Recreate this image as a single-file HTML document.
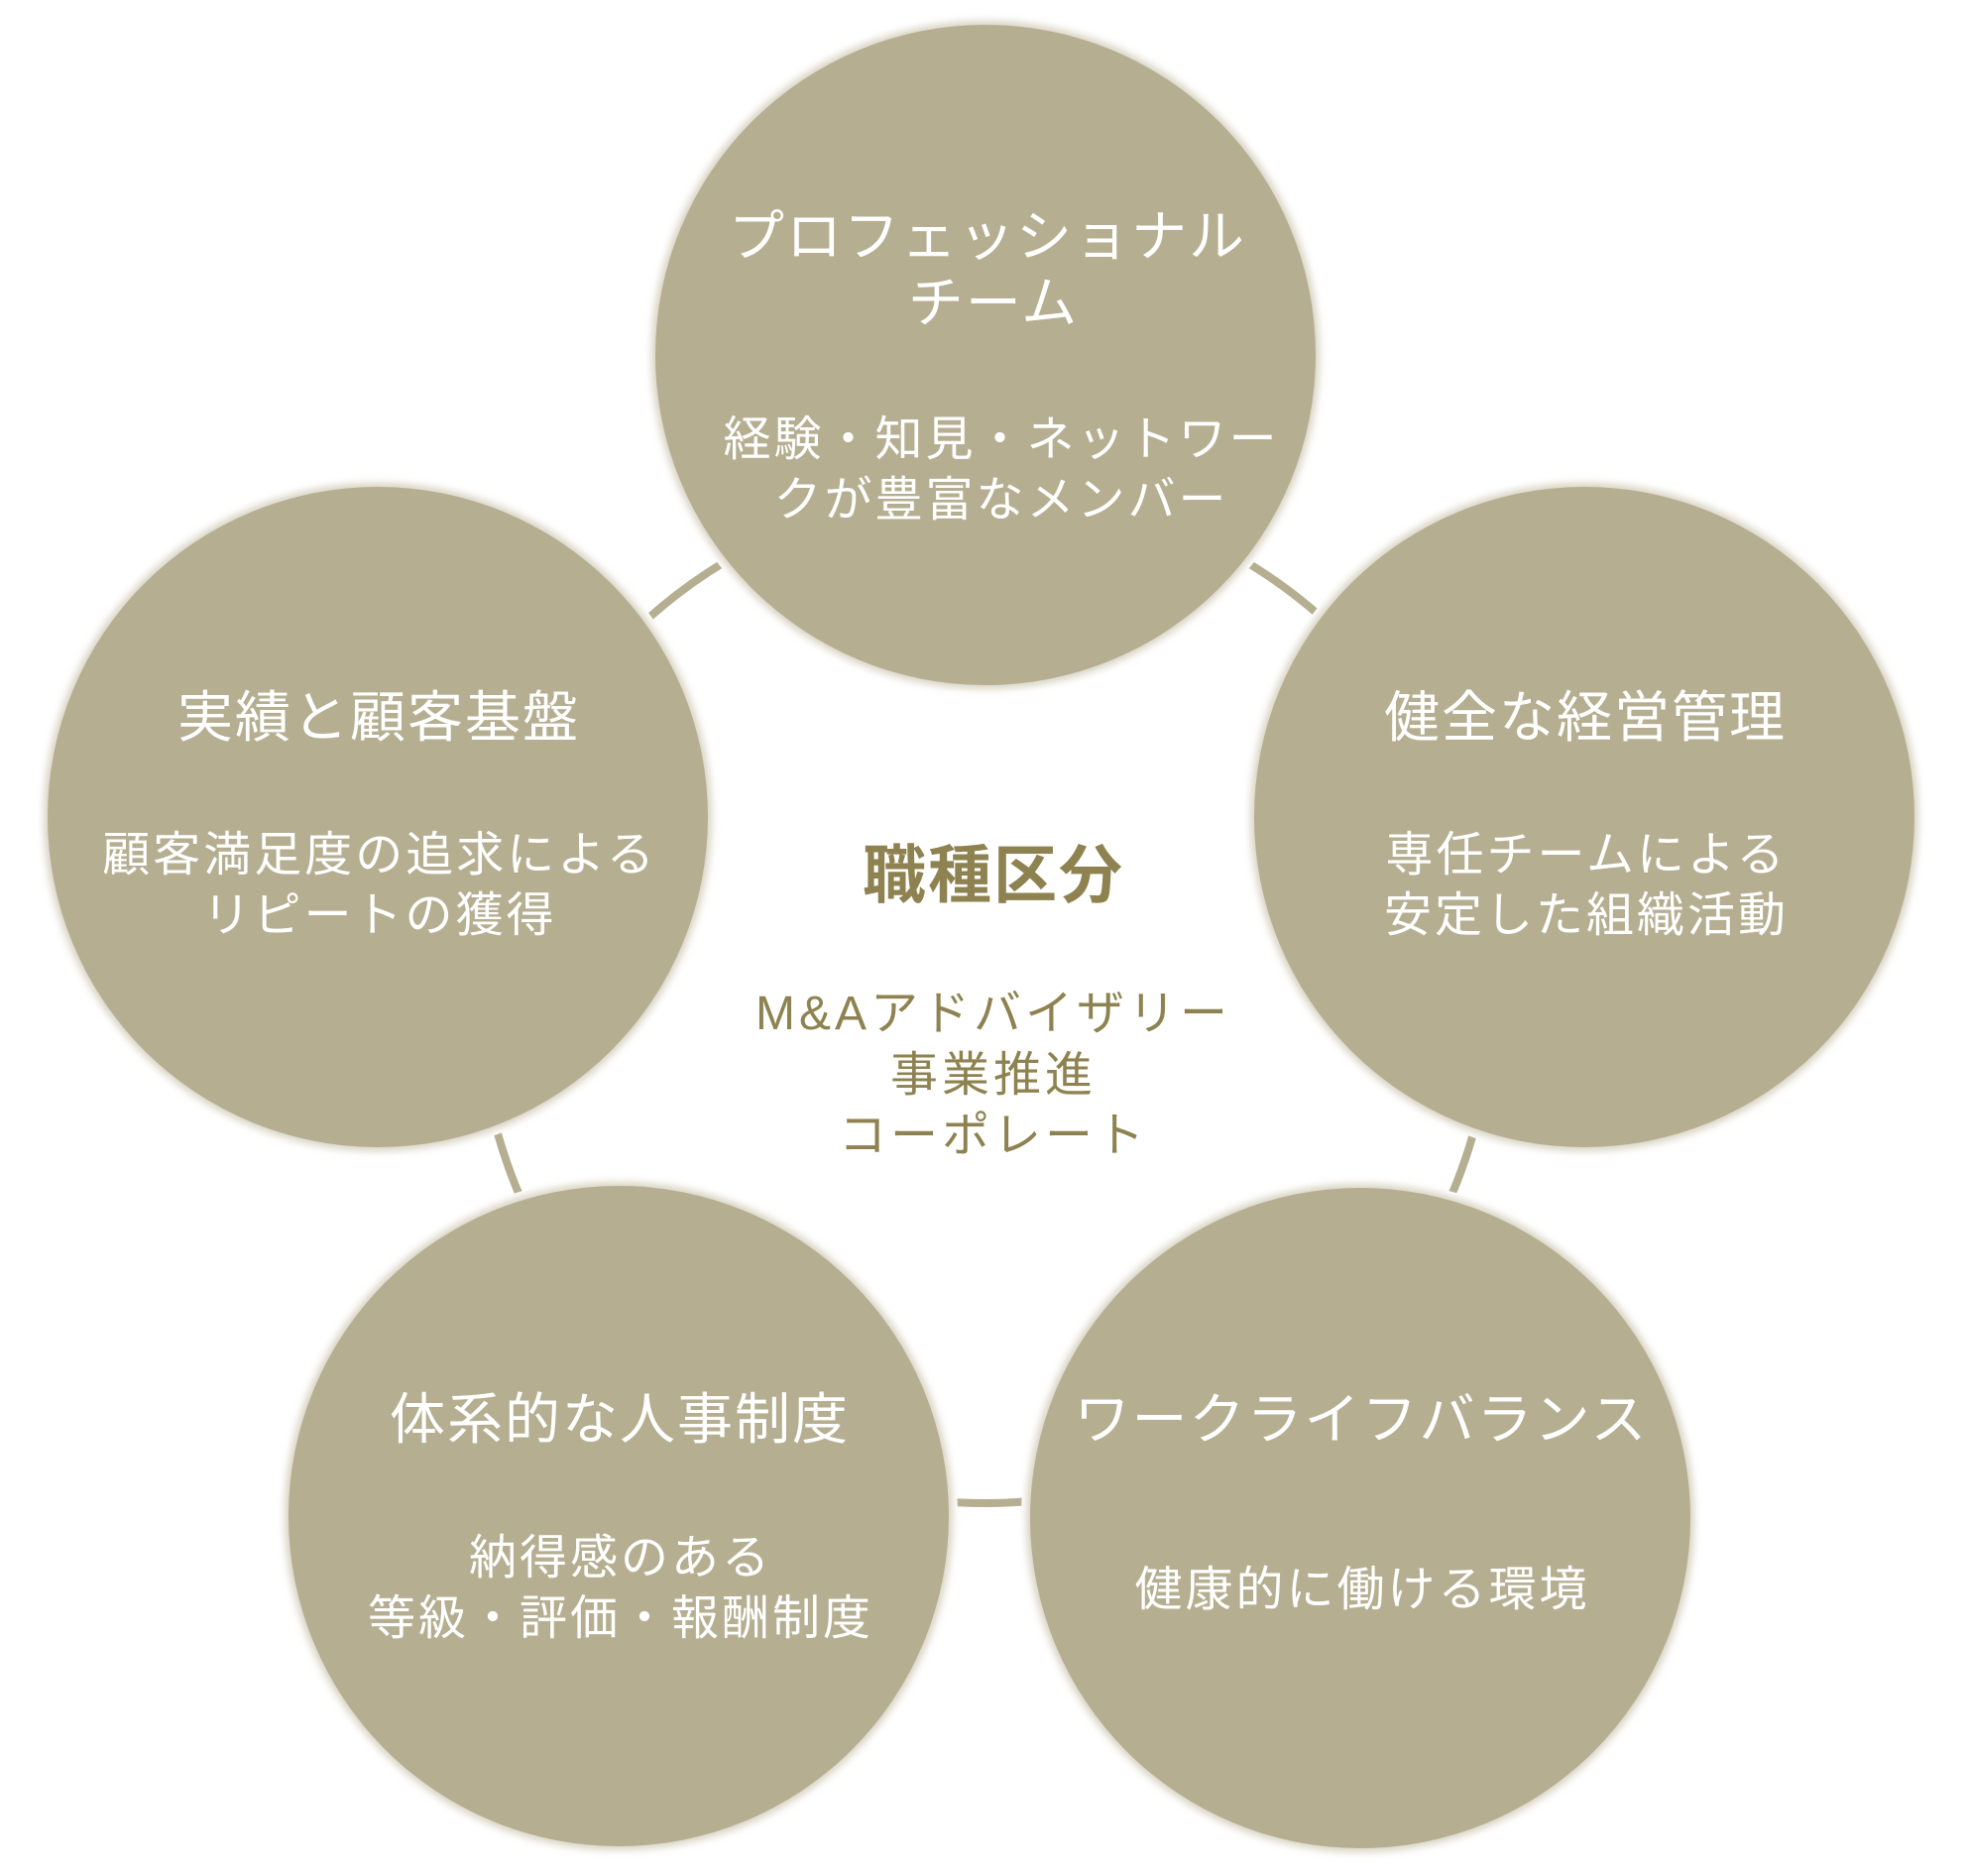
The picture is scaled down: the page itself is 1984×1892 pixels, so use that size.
<!DOCTYPE html>
<html><head><meta charset="utf-8"><style>
html,body{margin:0;padding:0;background:#fff;}
svg{display:block;}
text{font-family:"Liberation Sans","Noto Sans CJK JP",sans-serif;}
</style></head><body>
<svg width="1984" height="1892" viewBox="0 0 1984 1892" xmlns="http://www.w3.org/2000/svg">
<defs>
<filter id="sh" x="-20%" y="-20%" width="140%" height="140%"><feGaussianBlur stdDeviation="4"/></filter>
</defs>
<circle cx="994" cy="1005" r="511" fill="none" stroke="#b5ae91" stroke-width="8"/>
<g fill="#fff">
<circle cx="994" cy="358" r="342"/>
<circle cx="381" cy="824" r="342"/>
<circle cx="1598" cy="824" r="342"/>
<circle cx="624" cy="1529" r="342"/>
<circle cx="1372" cy="1531" r="342"/>
</g>
<g fill="#d8d3c3" filter="url(#sh)">
<circle cx="994" cy="358" r="337"/>
<circle cx="381" cy="824" r="337"/>
<circle cx="1598" cy="824" r="337"/>
<circle cx="624" cy="1529" r="337"/>
<circle cx="1372" cy="1531" r="337"/>
</g>
<g fill="#b5ae91">
<circle cx="994" cy="358" r="333"/>
<circle cx="381" cy="824" r="333"/>
<circle cx="1598" cy="824" r="333"/>
<circle cx="624" cy="1529" r="333"/>
<circle cx="1372" cy="1531" r="333"/>
</g>
<g fill="#fff" text-anchor="middle">
<g font-size="56" letter-spacing="2">
<text x="996" y="258">プロフェッショナル</text>
<text x="1002" y="325">チーム</text>
<text x="382" y="743">実績と顧客基盤</text>
<text x="1599" y="743">健全な経営管理</text>
<text x="625" y="1451">体系的な人事制度</text>
<text x="1373" y="1451">ワークライフバランス</text>
</g>
<g font-size="48" letter-spacing="3">
<text x="1010" y="459">経験・知見・ネットワー</text>
<text x="1010" y="520">クが豊富なメンバー</text>
<text x="383" y="878">顧客満足度の追求による</text>
<text x="383" y="939">リピートの獲得</text>
<text x="1600" y="878">専任チームによる</text>
<text x="1600" y="939">安定した組織活動</text>
<text x="626" y="1587">納得感のある</text>
<text x="626" y="1648">等級・評価・報酬制度</text>
<text x="1374" y="1619">健康的に働ける環境</text>
</g>
</g>
<g fill="#8e8250" text-anchor="middle">
<text x="1002" y="905" font-size="64" font-weight="bold" letter-spacing="2">職種区分</text>
<g font-size="48" letter-spacing="4">
<text x="1002" y="1038">M&amp;Aアドバイザリー</text>
<text x="1002" y="1100">事業推進</text>
<text x="1002" y="1161">コーポレート</text>
</g>
</g>
</svg>
</body></html>
